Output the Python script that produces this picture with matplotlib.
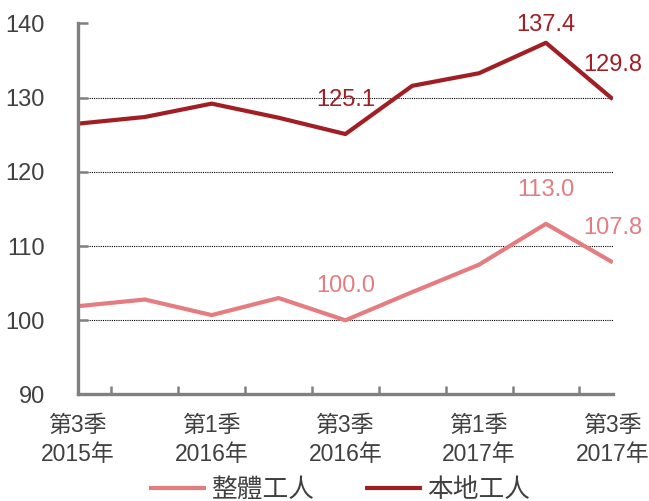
import matplotlib.pyplot as plt
import numpy as np

plt.rcParams['font.family'] = ['Liberation Sans', 'Noto Sans CJK TC', 'DejaVu Sans']

quarters = ['第3季\n2015年', '', '第1季\n2016年', '', '第3季\n2016年', '',
            '第1季\n2017年', '', '第3季\n2017年']
overall = [101.9, 102.8, 100.7, 103.0, 100.0, 103.8, 107.5, 113.0, 107.8]
local = [126.5, 127.4, 129.2, 127.3, 125.1, 131.6, 133.3, 137.4, 129.8]
# index -> vertical offset of value label (points)
overall_offsets = {4: 16.5, 7: 16.5, 8: 16.5}
local_offsets = {4: 16.5, 7: 5, 8: 16.5}

pink = '#e57c80'
dark = '#a01e24'
grey = '#404040'

fig = plt.figure(figsize=(6.49, 5.01), dpi=100)
ax = fig.add_axes([0.1202, 0.2126, 0.824, 0.7405])

x = np.arange(len(overall))
ax.plot(x, overall, color=pink, lw=3.0, label='整體工人', solid_capstyle='butt')
ax.plot(x, local, color=dark, lw=3.0, label='本地工人', solid_capstyle='butt')

for i, off in overall_offsets.items():
    ax.annotate(f'{overall[i]:.1f}', (x[i], overall[i]), xytext=(0, off),
                textcoords='offset points', ha='center', va='bottom',
                fontsize=17, color=pink, annotation_clip=False)
for i, off in local_offsets.items():
    ax.annotate(f'{local[i]:.1f}', (x[i], local[i]), xytext=(0, off),
                textcoords='offset points', ha='center', va='bottom',
                fontsize=17, color=dark, annotation_clip=False)

ax.set_xlim(0, 8)
ax.set_ylim(90, 140)
ax.set_yticks([90, 100, 110, 120, 130, 140])
for yv in [100, 110, 120, 130]:
    ax.axhline(yv, color='black', lw=0.8, ls=(0, (1, 1)), zorder=0)

ax.set_xticks(x[::2])
ax.set_xticklabels([q for q in quarters if q], fontsize=16.5, color=grey, linespacing=1.36)
ax.set_xticks(np.arange(0.5, 8.5, 1), minor=True)
ax.tick_params(axis='x', which='major', length=0, pad=14)
ax.tick_params(axis='x', which='minor', direction='in', length=6, width=1.8, color='#808080')
ax.tick_params(axis='y', direction='in', length=7, width=1.8, color='#808080',
               labelsize=17, labelcolor=grey, pad=24)

for s in ['top', 'right']:
    ax.spines[s].set_visible(False)
for s in ['left', 'bottom']:
    ax.spines[s].set_color('#808080')
    ax.spines[s].set_linewidth(2.4)

fig.legend(loc='center', bbox_to_anchor=(0.523, 0.022), ncol=2, frameon=False,
           fontsize=18.5, handlelength=2.2, columnspacing=2.0, handletextpad=0.2,
           labelcolor=grey)

fig.savefig('out.png', dpi=100)
